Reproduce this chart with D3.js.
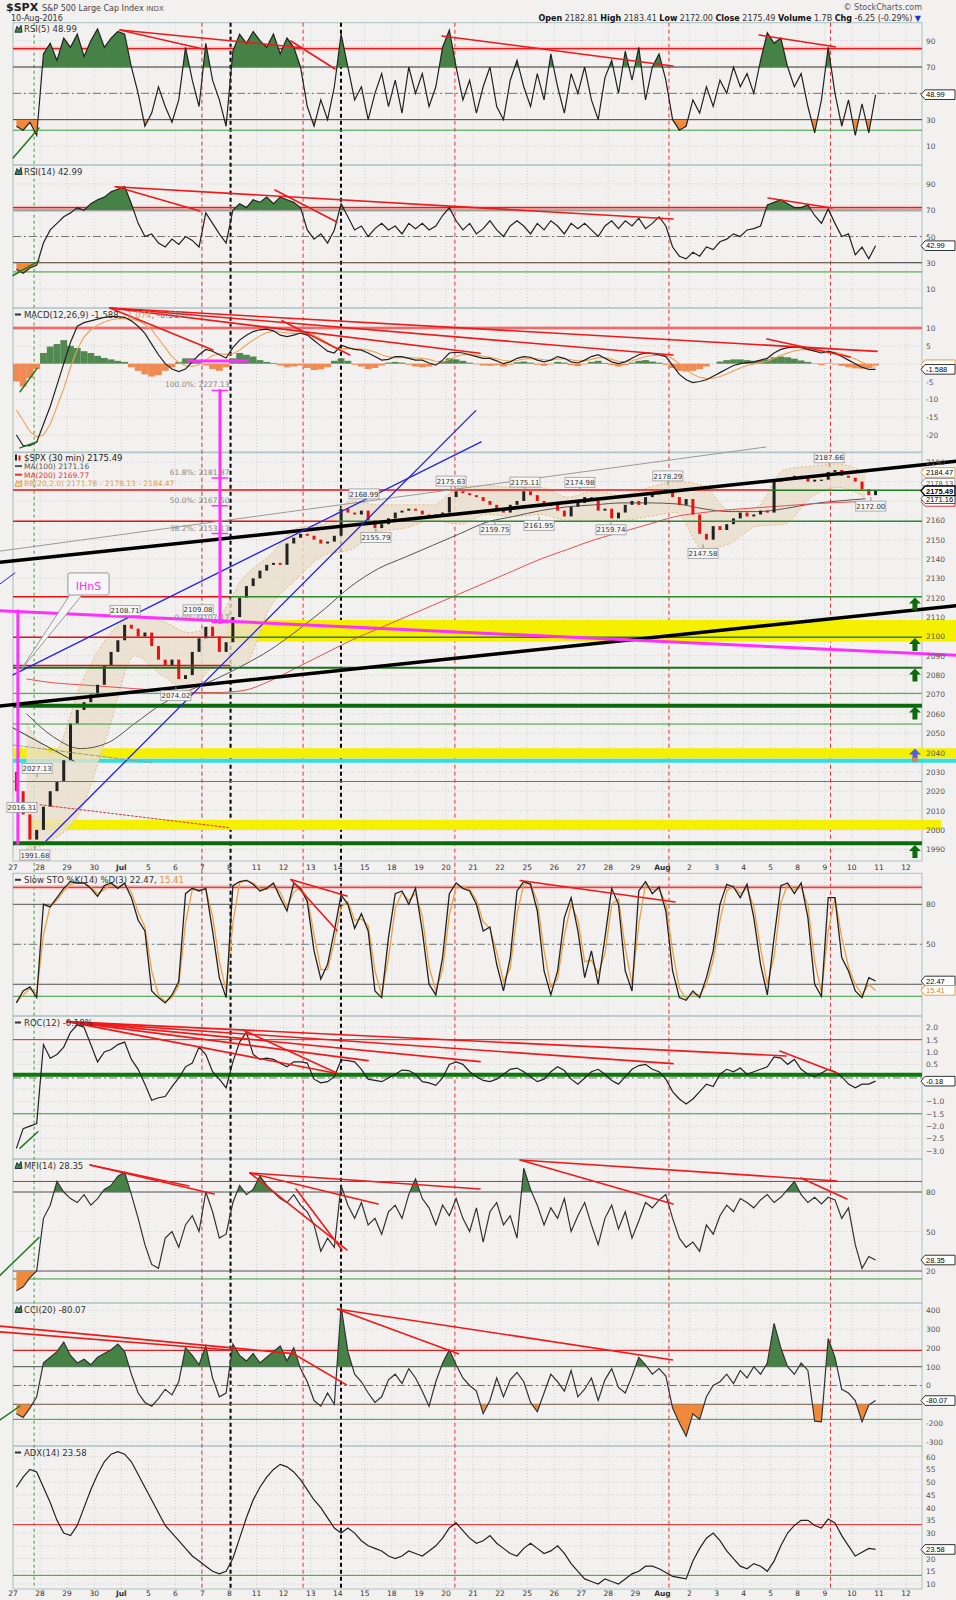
<!DOCTYPE html>
<html><head><meta charset="utf-8">
<script src="https://cdn.jsdelivr.net/npm/d3@7"></script>
<style>body{margin:0;background:#f3f0f0}svg{display:block}text{font-family:"DejaVu Sans",Verdana,sans-serif}text.tg{font-family:"Liberation Sans",Arial,sans-serif}</style>
</head><body><svg id="c" width="956" height="1600"></svg>
<script>
// ---------------- DATA ----------------
const dayLabels = ["27","28","29","30","Jul","5","6","7","8","11","12","13","14","15","18","19","20","21","22","25","26","27","28","29","Aug","2","3","4","5","8","9","10","11","12"];
const boldLabels = ["Jul","Aug"];
const barsPerDay = 4;
const priceOpen = 2030;
const price = [2020,2008,1995,2000, 2012,2020,2025,2036, 2055,2062,2066,2070, 2075,2085,2092,2098,
 2106,2104,2100,2102, 2095,2088,2085,2088, 2078,2080,2092,2099, 2105,2100,2092,2097,
 2110,2120,2126,2130, 2134,2137,2138,2137, 2148,2151,2153,2152, 2150,2148,2149,2152,
 2166,2164,2163,2165, 2160,2156,2158,2161, 2164,2165,2166,2165, 2163,2162,2163,2164,
 2172,2175,2174,2173, 2172,2170,2168,2165, 2164,2168,2170,2175, 2173,2170,2168,2168,
 2165,2162,2167,2169, 2172,2170,2165,2166, 2161,2164,2168,2170, 2168,2172,2174,2174,
 2176,2172,2168,2171, 2163,2153,2150,2157, 2155,2158,2161,2164, 2162,2163,2165,2164,
 2180,2181,2182,2183, 2182,2180,2181,2181, 2185,2186,2183,2182, 2180,2176,2173,2175.49];
const ma100 = [2060,2048,2042,2045,2055,2065,2072,2078,2085,2093,2103,2114,2126,2135,2141,2147,2153,2159,2162,2165,2167,2168,2169,2169,2168.5,2166,2164.5,2164.5,2166,2168.5,2170,2171.16];
const ma200 = [2078,2076,2075,2074,2073,2072,2071,2071,2072,2077,2084,2091,2098,2104,2110,2116,2122,2128,2134,2140,2145,2150,2154,2158,2162,2164,2165.5,2166.5,2167.5,2168.5,2169.2,2169.77];
const bbUpper = [2055,2040,2075,2100,2110,2108,2102,2108,2130,2142,2156,2158,2170,2168,2168,2168,2177,2178,2177,2177,2172,2175,2173,2177,2180,2178,2165,2167,2186,2188,2189,2184.47];
const bbLower = [1990,1995,2010,2050,2090,2080,2072,2085,2085,2115,2130,2142,2145,2154,2156,2160,2158,2163,2162,2163,2160,2160,2160,2162,2164,2145,2148,2157,2158,2172,2177,2171.78];
const rsi5 = [25,22,28,18, 80,88,75,92, 85,95,78,90, 99,85,92,97, 95,70,50,25, 35,55,40,28, 45,85,60,40, 88,60,45,25,
 82,95,88,97, 90,85,95,80, 92,85,70,40, 25,45,30,55, 95,70,45,55, 30,50,65,40, 60,35,70,50, 65,40,55,85,
 98,70,45,60, 35,55,70,40, 30,60,75,55, 40,65,45,80, 55,35,65,50, 70,45,30,62, 75,50,82,60, 85,45,70,80,
 60,30,22,25, 45,35,55,40, 60,50,70,55, 65,50,75,96, 88,92,70,55, 65,40,20,45, 85,50,25,45, 18,42,20,48.99];
const rsi14 = [25,22,26,28, 45,55,60,65, 68,72,70,75, 78,80,84,86, 88,75,60,50, 52,45,42,48, 44,50,47,42, 68,60,52,45,
 70,75,72,78, 76,80,75,80, 78,76,72,55, 48,52,45,55, 75,65,55,58, 50,56,60,55, 58,52,60,56, 60,55,58,66,
 72,62,55,60, 52,56,62,55, 50,58,62,58, 52,60,55,62, 58,52,60,56, 60,55,50,58, 62,56,62,58, 64,56,60,65,
 58,42,35,33, 38,35,42,40, 46,48,52,50, 55,56,58,74, 76,78,75,72, 72,74,66,60, 71,60,50,52, 36,42,33,42.99];
const macd = [-20,-23,-23,-22, -17,-12,-6,0, 6,10.5,11.5,12, 12.5,13,13.2,13.2, 13,12,10.5,8.5, 5.5,2.5,0,-1.5, -2.2,-1.5,0.5,2.5, 4,3.5,2.5,1.6,
 4.5,6.6,8,9, 9.5,9.7,9.2,8, 7.6,8,8.6,8, 6.5,5,3.5,3, 5.2,4.5,4,3.8, 3,2,1,1.2, 2,2,1.5,1, 1,0.2,-0.4,1,
 3,3.2,3,2.5, 2,1.5,1.5,0.8, 0,0.5,1.5,2, 1.8,1,0.5,1, 2,1.5,0.5,0.2, 1,2,2.5,1.5, 0.5,0,0.5,1.5, 2.5,3,2.8,2.5,
 2,-0.5,-3,-4.5, -5.3,-5,-4.5,-3.5, -2.5,-1.5,-0.5,0, 0.3,0.5,1,1.5, 3,4,4.5,4.7, 4.5,4,3.5,3, 3.5,3,2,1, 0,-1,-1.6,-1.588];
const macdSignal = [-13,-16,-19,-20.5, -20,-17,-12,-7, -1,4,7.5,9.5, 10.8,11.7,12.3,12.6, 12.7,12.5,12,11, 9.5,7,4.5,2, 0.3,-0.5,-0.8,-0.3, 1,2.3,2.8,2.6,
 2.8,3.8,5.3,6.6, 7.8,8.7,9.1,8.9, 8.6,8.5,8.5,8.4, 8,7,5.8,4.5, 4.2,4.3,4.2,4.1, 3.8,3.3,2.5,1.9, 1.7,1.7,1.7,1.6, 1.5,1.2,0.6,0.5,
 1.2,2,2.5,2.6, 2.4,2.1,1.8,1.4, 0.9,0.7,0.9,1.3, 1.5,1.4,1.1,1, 1.3,1.4,1.1,0.8, 0.8,1.2,1.7,1.7, 1.2,0.7,0.6,0.8, 1.4,2,2.3,2.4,
 2.3,1.4,0,-1.6, -3,-3.8,-4.2,-4.1, -3.6,-2.9,-2,-1.2, -0.5,-0.1,0.3,0.7, 1.5,2.3,3,3.6, 3.9,3.9,3.7,3.4, 3.3,3.2,2.8,2.1, 1.3,0.4,-0.4,-1.074];
const macdHist = [-5,-6.4,-4,-1.5, 3,4.8,5.5,6.6, 5,4.4,3.5,3, 2.2,1.6,1.2,0.8, 0.5,-1,-2,-3, -3.6,-3.2,-2,-1, 0.5,1.5,1.5,1, -0.5,-1.5,-2,-1,
 1.5,3,2.5,2, 1,0.5,0.2,-0.5, -1,-0.8,-0.5,-1.2, -1.8,-1.6,-1,0.8, 1.5,0.8,-0.3,-0.8, -1.5,-1.2,-0.5,0.3, 0.5,0.3,-0.3,-0.8, -1,-0.8,-0.2,0.8,
 1.5,1.2,0.8,0.3, -0.2,-0.5,-0.6,-0.4, -0.8,-0.3,0.4,0.6, 0.3,-0.3,-0.6,-0.2, 0.5,0.3,-0.4,-0.7, -0.2,0.5,0.8,0.2, -0.4,-0.8,-0.4,0.3, 0.8,1,0.6,0.3,
 -0.3,-1.2,-2,-2.2, -2,-1.5,-0.8,0, 0.6,1,1.2,1.2, 1,0.8,1,1.2, 1.8,2,1.8,1.4, 0.9,0.5,0.1,-0.4, 0.1,-0.2,-0.6,-1, -1.3,-1.4,-1.2,-0.514];
const stoK = [6,15,18,10, 80,78,85,92, 97,96,96,92, 86,94,96,92, 96,85,68,60, 15,10,6,12, 22,88,92,90, 92,60,25,10,
 94,97,98,95, 90,92,96,85, 75,96,92,82, 45,24,35,60, 87,80,62,73, 60,15,10,55, 88,90,80,92, 60,20,12,40,
 88,96,92,90, 80,60,63,35, 15,40,90,97, 95,75,30,12, 30,70,85,60, 25,45,20,55, 92,80,30,15, 90,97,88,93,
 75,30,10,8, 15,10,25,45, 80,95,93,85, 95,70,35,12, 55,94,96,88, 96,70,20,11, 85,85,40,30, 15,10,25,22.47];
const stoD = [7,12,17,13, 57,79,83,90, 95,96,96,93, 88,91,95,93, 95,89,74,63, 30,12,7,10, 19,66,91,91, 91,71,37,15,
 66,96,98,96, 92,91,95,89, 78,89,93,85, 57,31,31,52, 78,82,68,69, 64,30,12,40, 77,89,83,88, 71,33,15,31,
 72,93,93,91, 83,67,62,44, 22,32,73,95, 96,82,45,18, 24,57,80,68, 37,38,28,43, 80,84,47,20, 65,95,91,91,
 81,45,17,9, 13,12,20,38, 68,90,94,88, 92,78,47,20, 41,81,95,91, 93,79,37,14, 60,85,55,33, 20,12,20,15.41];
const roc = [-2.9,-2.1,-2.0,-1.9, 1.3,0.75,0.9,1.2, 1.8,2.1,2.0,1.3, 0.6,1.0,1.1,1.3, 1.4,0.7,0.3,-0.3, -0.95,-0.85,-0.8,-0.4, -0.05,0.4,0.55,1.2, 0.9,0.2,-0.1,-0.45,
 0.6,1.4,1.8,0.9, 0.7,0.75,0.7,0.55, 0.4,0.6,0.6,0.55, -0.1,-0.25,-0.2,0.0, 0.68,0.65,0.6,0.3, -0.1,-0.15,-0.2,-0.05, 0.1,0.27,0.25,0.1, -0.2,-0.25,-0.35,-0.05,
 0.5,0.6,0.5,0.2, 0,-0.15,-0.2,-0.1, 0.1,0.3,0.35,0.2, 0,-0.2,-0.1,0.2, 0.4,0.25,-0.1,-0.3, -0.05,0.2,0.3,0.1, -0.15,-0.3,0,0.3, 0.45,0.5,0.3,0.2,
 -0.1,-0.6,-0.9,-1.1, -0.9,-0.6,-0.3,-0.4, 0.1,0.3,0.2,0.35, 0.1,0.2,0.3,0.4, 0.8,0.75,0.5,0.7, 0.3,0.1,0,0.15, 0.3,0.2,0,-0.3, -0.45,-0.3,-0.3,-0.18];
const mfi = [5,8,15,20, 60,70,88,80, 75,72,78,70, 75,82,85,92, 95,78,60,40, 25,22,45,50, 38,55,62,50, 80,65,45,48,
 72,85,78,82, 92,85,80,75, 72,78,70,65, 55,35,45,38, 85,70,60,72, 55,60,48,65, 70,60,78,90, 75,68,55,70,
 62,75,60,50, 68,42,65,72, 55,62,45,98, 82,70,55,68, 60,75,50,62, 72,55,40,60, 70,52,65,45, 58,72,68,74,
 78,60,45,38, 42,35,55,48, 62,70,65,75, 72,68,74,78, 72,76,82,88, 78,72,76,71, 76,74,60,68, 40,22,31,28.35];
const cci = [-150,-170,-120,-60, 120,150,180,230, 160,120,140,110, 150,170,190,220, 180,60,-40,-90, -110,-70,-20,-50, 20,200,160,110, 210,40,-60,-40,
 220,160,130,170, 120,150,180,210, 130,200,90,20, -80,-110,-40,-100, 420,180,60,20, -40,-90,-60,30, 60,10,90,40, -30,-110,20,120,
 190,110,40,0, -30,-150,-80,40, -60,30,70,20, -90,-140,-40,60, 20,-30,80,-60, -20,40,-80,30, 90,-10,-40,50, 150,110,60,90,
 50,-120,-200,-270, -150,-180,-60,0, 20,60,10,80, 40,100,60,120, 330,200,100,60, 120,80,-190,-193, 250,150,-20,-40, -80,-193,-104,-80.07];
const adx = [48,52,55,54, 48,42,35,30, 29,33,40,47, 53,58,61,62, 61,58,53,48, 43,38,33,30, 27,24,21,19, 17,15,14,15,
 20,28,36,43, 48,52,55,57, 56,54,51,47, 43,40,36,32, 30,32,30,27, 25,24,23,21, 20,21,23,22, 21,23,25,28,
 32,34,31,28, 26,27,29,26, 24,22,21,24, 26,24,22,23, 25,22,18,15, 12,11,10,12, 11,10,12,14, 15,17,17,16,
 14.5,13,12.5,12, 19,24,28,30, 27,23,20,17, 16,18,17,15, 19,25,30,33, 35,35,33,32, 35.5,34,29,25, 21,22.5,24,23.58];

// annotation lines in data units: [t1, v1, t2, v2]
const rsi5Trends = [[3.95,98.1,10.68,84.7],[3.95,98.1,7.06,83.5],[10.27,89.8,11.9,68.5],[15.85,93.6,24.39,70.8],[27.57,94.3,30.38,85.4]];
const rsi14Trends = [[3.77,87.9,24.39,63.3],[3.84,87.7,6.91,69.4],[9.68,85.4,11.97,61.0],[27.9,79.3,30.27,71.7]];
const macdTrends = [[3.58,15.6,31.93,3.44],[3.58,15.6,24.39,2.43],[3.58,15.6,17.26,2.91],[3.58,15.6,7.39,3.83],[9.94,12.05,12.45,2.43],[27.86,6.92,30.93,1.87]];
const stoTrends = [[10.27,98.6,12.34,86.2],[10.27,98.6,11.97,60.3],[18.74,97.9,24.46,81.7]];
const rocTrends = [[2.0,2.23,28.57,0.84],[2.0,2.23,24.39,0.53],[2.0,2.23,17.26,0.61],[2.0,2.23,13.12,0.65],[2.0,2.23,11.83,0.16],[8.5,1.89,11.97,0.15],[28.34,1.04,30.45,0.15]];
const mfiTrends = [[2.85,100.5,7.43,78.5],[2.85,100.5,6.5,84.6],[8.76,94.4,13.49,70.9],[8.76,94.4,12.34,36],[8.76,94.4,17.26,82.3],[10.46,82.3,12.16,36],[18.74,104.3,24.39,70.9],[18.74,104.3,30.45,88.4],[29.12,90.6,30.82,74.7]];
const cciTrends = [[-0.48,316,10.46,168],[-0.48,285,8.02,189],[10.27,177,12.34,2],[11.97,407,24.39,136],[11.97,407,16.48,168]];
const greenTicks = {rsi5:[0,0.9,0.96,23.7], rsi14:[0,20.3,0.96,31.4], macd:[0.26,-7.86,0.89,-1.3], macd2:[0.26,-23.6,0.89,-21.9], roc:[0.26,-2.89,0.92,-2.23], mfi:[-0.48,16.7,0.96,45.4], cci:[-0.48,-183,0.26,-109]};
const mainTrends = [
 {a:[-0.48,2138.3,34.85,2190.5],c:'#000',w:3.5},
 {a:[-0.48,2064.0,34.85,2115.9],c:'#000',w:3.5},
 {a:[-0.48,2144.1,27.83,2197.9],c:'#9a9a9a',w:1},
 {a:[0,2080.1,17.3,2200.5],c:'#2323e6',w:1.3},
 {a:[1.22,1994.3,17.1,2216.7],c:'#2323e6',w:1.3},
 {a:[-0.48,2113.3,34.85,2090.3],c:'#ff30ff',w:3},
 {a:[-0.48,2127.1,0.07,2132.8],c:'#2323e6',w:1},
 {a:[0,2052.7,2.25,2035.6],c:'#333',w:1},
 {a:[0,2043.9,5.14,2034.6],c:'#999',w:1,d:'4,2'},
 {a:[1.0,2013,8.02,2001.1],c:'#e03030',w:1,d:'2,2'},
 {a:[0.18,2113.3,0.18,1993.1],c:'#ff30ff',w:3}
];
const fibLevels = [{p:"100.0%",v:2227.13},{p:"61.8%",v:2181.87},{p:"50.0%",v:2167.50},{p:"38.2%",v:2153.13},{p:"0.0%",v:2107.17}];
const priceLabels = [
 {t:0.33,v:2016.31,pos:1},{t:0.89,v:2027.13,pos:-1},{t:0.81,v:1991.68,pos:1},
 {t:4.14,v:2108.71,pos:-1},{t:6.84,v:2109.08,pos:-1},{t:6.02,v:2074.02,pos:1},
 {t:12.97,v:2168.99,pos:-1},{t:13.41,v:2155.79,pos:1},{t:16.19,v:2175.63,pos:-1},
 {t:17.81,v:2159.75,pos:1},{t:18.92,v:2175.11,pos:-1},{t:19.44,v:2161.95,pos:1},
 {t:20.95,v:2174.98,pos:-1},{t:22.1,v:2159.74,pos:1},{t:24.2,v:2178.29,pos:-1},
 {t:25.5,v:2147.58,pos:1},{t:30.16,v:2187.66,pos:-1},{t:31.7,v:2172.00,pos:1}];
const yellowBands = [{lo:2097.3,hi:2108.5,t1:7.91,t2:34.85},{lo:2037,hi:2042.2,t1:0,t2:34.85},{lo:2000,hi:2005.2,t1:0.59,t2:34.3}];
const supportLines = [
 {v:2175.6,c:'#e81010',w:1.5,t1:0,t2:27.97},{v:2175.49,c:'#1e7a1e',w:1.5,t1:27.97,t2:33.59},
 {v:2159.5,c:'#e81010',w:1.5,t1:0,t2:11.97},{v:2159.5,c:'#2e8b2e',w:1.5,t1:11.97,t2:33.59},
 {v:2120.5,c:'#e81010',w:1.5,t1:0,t2:8.02},{v:2120.5,c:'#2e8b2e',w:1.5,t1:8.02,t2:33.59},
 {v:2099.5,c:'#e81010',w:1.5,t1:0,t2:7.91},{v:2099.5,c:'#2e7a2e',w:1.5,t1:7.91,t2:33.59},
 {v:2085,c:'#e81010',w:1.5,t1:0,t2:8.02},{v:2083.8,c:'#1e6e1e',w:2,t1:0,t2:33.59},
 {v:2070.6,c:'#3a9a3a',w:1,t1:0,t2:33.59},{v:2064.2,c:'#0b6b0b',w:4,t1:0,t2:33.59},
 {v:2054.7,c:'#3a9a3a',w:1,t1:0,t2:33.59},{v:2025,c:'#3a9a3a',w:1,t1:0,t2:33.59},
 {v:1993.1,c:'#0b6b0b',w:4,t1:0,t2:33.59}];
const arrowLevels = [2116.5,2095.6,2079.8,2060.2,2038.4,1988.6];
const vLines = [{t:0.78,c:'#3a9a3a',w:1,d:'3,3'},{t:6.98,c:'#e83030',w:1,d:'4,3'},{t:8.04,c:'#000',w:2,d:'4,3'},{t:10.72,c:'#e83030',w:1,d:'4,3'},
 {t:12.12,c:'#000',w:2,d:'4,3'},{t:16.33,c:'#e83030',w:1,d:'4,3'},{t:24.24,c:'#e83030',w:1,d:'4,3'},{t:30.21,c:'#e83030',w:1,d:'4,3'}];

// ---------------- LAYOUT ----------------
const svg = d3.select('#c');
const defs = svg.append('defs');
const XL = 13, XR = 922;
const x = d3.scaleLinear().domain([0, 33]).range([13, 906]);
const tS = i => (i + 0.5) / barsPerDay;
const tD = d => d + 0.5;
svg.append('rect').attr('width',956).attr('height',1600).attr('fill','#f3f0f0');
const gGrid = svg.append('g'), gV = svg.append('g'), gData = svg.append('g'), gTop = svg.append('g'), gTick = svg.append('g'), gTag = svg.append('g');
const tagYs = [];

const P = {
 rsi5:{top:22.7,bottom:165,lo:-4.45,hi:103.68,ticks:[90,70,50,30,10]},
 rsi14:{top:165,bottom:308,lo:-4.48,hi:104.48,ticks:[90,70,50,30,10]},
 macd:{top:308,bottom:452,lo:-24.76,hi:15.61,ticks:[10,5,0,-5,-10,-15,-20]},
 main:{top:452.7,bottom:861,lo:1983.93,hi:2194.94,ticks:d3.range(1990,2200,10)},
 sto:{top:873.3,bottom:1016,lo:-3.8,hi:103.26,ticks:[80,50,20]},
 roc:{top:1016,bottom:1159,lo:-3.33,hi:2.457,ticks:[2,1.5,1,0.5,0,-0.5,-1,-1.5,-2,-2.5,-3],fmt:d3.format('.1f')},
 mfi:{top:1159,bottom:1303,lo:-4.28,hi:105.06,ticks:[80,50,20]},
 cci:{top:1303,bottom:1446,lo:-321.8,hi:438.8,ticks:[400,300,200,100,0,-100,-200,-300]},
 adx:{top:1446,bottom:1589,lo:8.04,hi:64.2,ticks:[60,55,50,45,40,35,30,25,20,15,10]}
};
Object.entries(P).forEach(([k,p]) => {
  p.y = d3.scaleLinear().domain([p.lo,p.hi]).range([p.bottom,p.top]);
  defs.append('clipPath').attr('id','cl_'+k).append('rect').attr('x',XL).attr('y',p.top).attr('width',XR-XL).attr('height',p.bottom-p.top);
  p.clip = 'url(#cl_'+k+')'; p.key = k;
  const g = gGrid.append('g');
  g.selectAll('line.v').data(d3.range(dayLabels.length)).join('line').attr('class','v')
    .attr('x1',d=>x(d)).attr('x2',d=>x(d)).attr('y1',p.top).attr('y2',p.bottom)
    .attr('stroke','#c9d3d3').attr('stroke-dasharray','1,2');
  g.selectAll('line.h').data(p.ticks).join('line').attr('class','h')
    .attr('x1',XL).attr('x2',XR).attr('y1',d=>p.y(d)).attr('y2',d=>p.y(d))
    .attr('stroke','#c9d3d3').attr('stroke-dasharray','1,2');
  g.append('rect').attr('x',XL).attr('y',p.top).attr('width',XR-XL).attr('height',p.bottom-p.top)
    .attr('fill','none').attr('stroke','#a9c2c2');
});

// date rows
[867, 1593].forEach(yc => {
  svg.append('g').selectAll('text').data(dayLabels).join('text')
    .attr('x',(d,i)=>x(i)).attr('y',yc+3).attr('text-anchor','middle').attr('font-size',7.5)
    .attr('font-weight',d=>boldLabels.includes(d)?'bold':null).attr('fill','#333').text(d=>d);
});

// vertical marker lines
vLines.forEach(v => gV.append('line').attr('x1',x(v.t)).attr('x2',x(v.t)).attr('y1',22.7).attr('y2',1589)
  .attr('stroke',v.c).attr('stroke-width',v.w).attr('stroke-dasharray',v.d));

// ---------------- HELPERS ----------------
function hl(p, v, c, w, dash, t1, t2, glow) {
  const x1 = t1==null?XL:x(t1), x2 = t2==null?XR:x(t2);
  if (glow) gData.append('line').attr('x1',x1).attr('x2',x2).attr('y1',p.y(v)).attr('y2',p.y(v)).attr('stroke','#f4a0a0').attr('stroke-width',4).attr('opacity',0.6);
  gData.append('line').attr('x1',x1).attr('x2',x2).attr('y1',p.y(v)).attr('y2',p.y(v))
    .attr('stroke',c).attr('stroke-width',w||1).attr('stroke-dasharray',dash||null);
}
function seg(p, a, c, w, dash) {
  gTop.append('line').attr('x1',x(a[0])).attr('y1',p.y(a[1])).attr('x2',x(a[2])).attr('y2',p.y(a[3]))
    .attr('stroke',c).attr('stroke-width',w).attr('stroke-dasharray',dash||null).attr('stroke-linecap','round');
}
let clipN = 0;
function thrClip(p, y1, y2) {
  const id = 'tc'+(clipN++);
  defs.append('clipPath').attr('id',id).append('rect').attr('x',XL).attr('y',Math.min(y1,y2)).attr('width',XR-XL).attr('height',Math.abs(y2-y1));
  return 'url(#'+id+')';
}
function osc(p, vals, hi, lo, color) {
  const g = gData.append('g').attr('clip-path', p.clip);
  const area = thr => d3.area().x((d,i)=>x(tS(i))).y0(p.y(thr)).y1(d=>p.y(d));
  if (hi != null) g.append('path').attr('d',area(hi)(vals)).attr('fill','#468246').attr('clip-path',thrClip(p,p.top,p.y(hi)));
  if (lo != null) g.append('path').attr('d',area(lo)(vals)).attr('fill','#f08a3a').attr('clip-path',thrClip(p,p.y(lo),p.bottom));
  g.append('path').attr('d',d3.line().x((d,i)=>x(tS(i))).y(d=>p.y(d))(vals))
    .attr('fill','none').attr('stroke',color||'#222').attr('stroke-width',1.2);
}
function tag(y, txt, stroke, o) {
  o = o || {};
  tagYs.push(y);
  const g = gTag.append('g');
  g.append('path').attr('d',`M921,${y} L925,${y-4.8} L955,${y-4.8} L955,${y+4.8} L925,${y+4.8} Z`)
    .attr('fill','#fff').attr('stroke',stroke).attr('stroke-width',o.bold?1.4:1);
  if (txt) g.append('text').attr('class','tg').attr('x',926).attr('y',y+2.8).attr('font-size',7.5)
    .attr('fill',o.color||'#000').attr('font-weight',o.bold?'bold':null).text(txt);
}
function label(p, parts, icon) {
  const yb = p.top + 9.5;
  if (icon === 'mtn') gTop.append('path').attr('d',`M15,${yb} L17,${yb-6} L19,${yb-3} L21,${yb-7} L22,${yb} Z`).attr('fill','#468246').attr('stroke','#234');
  else if (icon) gTop.append('line').attr('x1',15).attr('x2',21).attr('y1',yb-3).attr('y2',yb-3).attr('stroke',icon).attr('stroke-width',2);
  const t = gTop.append('text').attr('x',24).attr('y',yb).attr('font-size',8.5).attr('fill','#333');
  parts.forEach(pt => t.append('tspan').attr('fill',pt[1]||'#333').text(pt[0]));
}

// ---------------- HEADER ----------------
const hd = svg.append('text').attr('x',6).attr('y',11);
hd.append('tspan').attr('font-size',11).attr('font-weight','bold').attr('fill','#222').text('$SPX ');
hd.append('tspan').attr('font-size',8).attr('fill','#444').text('S&P 500 Large Cap Index ');
hd.append('tspan').attr('font-size',7).attr('fill','#555').text('INDX');
svg.append('text').attr('x',11).attr('y',20.5).attr('font-size',8).attr('fill','#333').text('10-Aug-2016');
svg.append('text').attr('x',922).attr('y',10).attr('text-anchor','end').attr('font-size',8).attr('fill','#555').text('© StockCharts.com');
const ol = svg.append('text').attr('x',921).attr('y',20.5).attr('text-anchor','end').attr('font-size',8).attr('fill','#333');
[['Open',' 2182.81 '],['High',' 2183.41 '],['Low',' 2172.00 '],['Close',' 2175.49 '],['Volume',' 1.7B '],['Chg',' -6.25 (-0.29%) ']].forEach(k=>{
  ol.append('tspan').attr('font-weight','bold').attr('fill','#111').text(k[0]); ol.append('tspan').text(k[1]); });
ol.append('tspan').attr('fill','#2030d0').text('▼');

// ---------------- RSI(5) ----------------
(() => { const p = P.rsi5;
  hl(p,84,'#e81c1c',1.2,null,null,null,true); hl(p,70,'#333',1); hl(p,50,'#777',1,'8,3,2,3'); hl(p,30,'#333',1); hl(p,22,'#3a9a3a',1);
  osc(p, rsi5, 70, 30);
  rsi5Trends.forEach(a=>seg(p,a,'#f01818',1.6)); seg(p,greenTicks.rsi5,'#1e7a1e',1.5);
  label(p,[['RSI(5) 48.99']],'mtn'); tag(p.y(48.99),'48.99','#333');
})();
// ---------------- RSI(14) ----------------
(() => { const p = P.rsi14;
  hl(p,70,'#aaa',2.5); hl(p,72,'#e81c1c',1.2,null,null,null,true); hl(p,50,'#777',1,'8,3,2,3'); hl(p,30,'#333',1); hl(p,23,'#3a9a3a',1);
  osc(p, rsi14, 70, 30);
  rsi14Trends.forEach(a=>seg(p,a,'#f01818',1.6)); seg(p,greenTicks.rsi14,'#1e7a1e',1.5);
  label(p,[['RSI(14) 42.99']],'mtn'); tag(p.y(42.99),'42.99','#333');
})();
// ---------------- MACD ----------------
(() => { const p = P.macd;
  hl(p,10,'#e81c1c',1.2,null,null,null,true);
  const g = gData.append('g').attr('clip-path',p.clip);
  g.selectAll('rect').data(macdHist).join('rect')
    .attr('x',(d,i)=>x(tS(i))-3.4).attr('width',6.8)
    .attr('y',d=>Math.min(p.y(d),p.y(0))).attr('height',d=>Math.abs(p.y(d)-p.y(0)))
    .attr('fill',d=>d>=0?'#3f7d3f':'#ee8040').attr('opacity',0.9);
  const ln = d3.line().x((d,i)=>x(tS(i))).y(d=>p.y(d));
  g.append('path').attr('d',ln(macdSignal)).attr('fill','none').attr('stroke','#f0a050').attr('stroke-width',1.1);
  g.append('path').attr('d',ln(macd)).attr('fill','none').attr('stroke','#222').attr('stroke-width',1.2);
  macdTrends.forEach(a=>seg(p,a,'#f01818',1.6));
  seg(p,greenTicks.macd,'#1e7a1e',1.5); seg(p,greenTicks.macd2,'#1e7a1e',1.5);
  seg(p,[6.47,0.75,8.65,0.75],'#ff30ff',3);
  label(p,[['MACD(12,26,9) -1.588, '],['-1.074','#e89a50'],[', -0.514','#777']],'#333');
  tag(p.y(-0.3),null,'#e0a050'); tag(p.y(-1.588),'-1.588','#333');
})();
// ---------------- MAIN PRICE ----------------
(() => { const p = P.main; const y = p.y;
  yellowBands.forEach(b => gData.append('rect').attr('x',x(b.t1)).attr('width',x(b.t2)-x(b.t1)).attr('y',y(b.hi)).attr('height',y(b.lo)-y(b.hi)).attr('fill','#f4f000'));
  hl(p,2035.8,'#2ee0e0',4,null,0,34.85);
  const g = gData.append('g').attr('clip-path',p.clip);
  const band = d3.area().curve(d3.curveMonotoneX).x((d,i)=>x(tD(i))).y0((d,i)=>y(bbLower[i])).y1(d=>y(d));
  g.append('path').attr('d',band(bbUpper)).attr('fill','#e8dfcc').attr('opacity',0.8);
  const ln = d3.line().curve(d3.curveMonotoneX).x((d,i)=>x(tD(i))).y(d=>y(d));
  g.append('path').attr('d',ln(bbUpper)).attr('fill','none').attr('stroke','#e9b877').attr('stroke-dasharray','2,2');
  g.append('path').attr('d',ln(bbLower)).attr('fill','none').attr('stroke','#e9b877').attr('stroke-dasharray','2,2');
  supportLines.forEach(s => hl(p,s.v,s.c,s.w,null,s.t1,s.t2));
  g.append('path').attr('d',ln(ma100)).attr('fill','none').attr('stroke','#555').attr('stroke-width',1);
  g.append('path').attr('d',ln(ma200)).attr('fill','none').attr('stroke','#e85050').attr('stroke-width',1);
  const cd = price.map((c,i)=>({i, o: i ? price[i-1] : priceOpen, c}));
  g.selectAll('rect.cd').data(cd).join('rect').attr('class','cd')
    .attr('x',d=>x(tS(d.i))-1.5).attr('width',3)
    .attr('y',d=>y(Math.max(d.o,d.c))).attr('height',d=>Math.max(1.2,Math.abs(y(d.o)-y(d.c))))
    .attr('fill',d=>d.c>=d.o?'#222':'#e81010');
  mainTrends.forEach(m => seg(p,m.a,m.c,m.w,m.d));
  // fib
  seg(p,[7.65,2227.13,7.65,2107.17],'#ff30ff',3);
  fibLevels.forEach(f => {
    seg(p,[7.36,f.v,7.93,f.v],'#ff30ff',1.5);
    gTop.append('text').attr('x',x(8.0)).attr('y',y(f.v)-3).attr('text-anchor','end').attr('font-size',7.5).attr('fill','#888').text(f.p+': '+f.v.toFixed(2));
  });
  // price callouts
  priceLabels.forEach(l => {
    const cx = x(l.t), cy = y(l.v) + l.pos*9;
    gTop.append('line').attr('x1',cx).attr('x2',cx).attr('y1',y(l.v)).attr('y2',cy-l.pos*5).attr('stroke','#888');
    gTop.append('rect').attr('x',cx-15).attr('y',cy-5).attr('width',30).attr('height',10).attr('fill','#f6f6f6').attr('stroke','#999').attr('stroke-width',0.8);
    gTop.append('text').attr('x',cx).attr('y',cy+2.6).attr('text-anchor','middle').attr('font-size',7).attr('fill','#333').text(l.v.toFixed(2));
  });
  // IHnS callout
  gTop.append('path').attr('d',`M${x(2.1)},${y(2121.4)} L${x(0.26)},${y(2082.1)} L${x(2.55)},${y(2121.4)}`).attr('fill','#f4f4f4').attr('stroke','#999');
  gTop.append('rect').attr('x',x(2.03)).attr('y',y(2132.8)).attr('width',x(3.55)-x(2.03)).attr('height',y(2121.4)-y(2132.8)).attr('fill','#f6f6f6').attr('stroke','#999').attr('rx',2);
  gTop.append('text').attr('x',(x(2.03)+x(3.55))/2).attr('y',y(2124.2)).attr('text-anchor','middle').attr('font-size',11).attr('fill','#ff30ff').text('IHnS');
  // arrows
  arrowLevels.forEach((v,k) => {
    const ax = x(33.33), ay = y(v);
    const c = k===4 ? '#5060e0' : '#0b6b0b';
    gTop.append('path').attr('d',`M${ax},${ay-7} L${ax+6},${ay-1} L${ax+2.5},${ay-1} L${ax+2.5},${ay+6} L${ax-2.5},${ay+6} L${ax-2.5},${ay-1} L${ax-6},${ay-1} Z`).attr('fill',c);
    if (k===4) gTop.append('rect').attr('x',ax-2.5).attr('y',ay+2).attr('width',5).attr('height',4).attr('fill','#e88050');
  });
  // legend
  const lg = [['$SPX (30 min) 2175.49','#222',8.5],['MA(100) 2171.16','#555',7.5],['MA(200) 2169.77','#e03030',7.5],['BB(20,2.0) 2171.78 - 2178.13 - 2184.47','#e0a050',7.5]];
  lg.forEach((l,k) => {
    const yb = 460.5 + k*8.6;
    if (k===0) { gTop.append('rect').attr('x',15).attr('y',yb-6).attr('width',2).attr('height',6).attr('fill','#222'); gTop.append('rect').attr('x',18.5).attr('y',yb-5).attr('width',2).attr('height',5).attr('fill','#e81010'); }
    else if (k<3) gTop.append('line').attr('x1',15).attr('x2',22).attr('y1',yb-3).attr('y2',yb-3).attr('stroke',l[1]).attr('stroke-width',2);
    else gTop.append('path').attr('d',`M15,${yb} L17,${yb-6} L19,${yb-3} L21,${yb-6} L22,${yb} Z`).attr('fill','#e8d8b8').attr('stroke','#e0a050');
    gTop.append('text').attr('x',24).attr('y',yb).attr('font-size',l[2]).attr('fill',l[1]).text(l[0]);
  });
  tag(y(2184.47)-0.5,'2184.47','#e0a050'); tag(y(2178.13)-2,'2178.13','#999',{color:'#555'});
  tag(y(2169.77),null,'#e03030'); tag(y(2171.16),'2171.16','#555');
  tag(y(2175.49)+0.5,'2175.49','#000',{bold:true});
})();
// ---------------- SLOW STO ----------------
(() => { const p = P.sto;
  hl(p,92.75,'#e81c1c',1,null,null,null,true); hl(p,80,'#555',1); hl(p,50,'#777',1,'8,3,2,3'); hl(p,20,'#555',1); hl(p,11,'#3a9a3a',1);
  const g = gData.append('g').attr('clip-path',p.clip);
  const ln = d3.line().x((d,i)=>x(tS(i))).y(d=>p.y(d));
  g.append('path').attr('d',ln(stoD)).attr('fill','none').attr('stroke','#f0a040').attr('stroke-width',1.3);
  g.append('path').attr('d',ln(stoK)).attr('fill','none').attr('stroke','#222').attr('stroke-width',1.3);
  stoTrends.forEach(a=>seg(p,a,'#f01818',1.6));
  label(p,[['Slow STO %K(14) %D(3) 22.47, '],['15.41','#e8903a']],'#333');
  tag(p.y(22.47),'22.47','#333'); tag(p.y(15.41),'15.41','#e0a050',{color:'#e08030'});
})();
// ---------------- ROC ----------------
(() => { const p = P.roc;
  hl(p,1.5,'#e81c1c',1); hl(p,-0.05,'#777',1,'8,3,2,3'); hl(p,0.08,'#0b7a0b',4); hl(p,-1.5,'#3a9a3a',1);
  osc(p, roc, null, null);
  rocTrends.forEach(a=>seg(p,a,'#f01818',1.6)); seg(p,greenTicks.roc,'#1e7a1e',1.5);
  label(p,[['ROC(12) -0.18%']],'#333'); tag(p.y(-0.18),'-0.18','#333');
})();
// ---------------- MFI ----------------
(() => { const p = P.mfi;
  hl(p,88,'#e81c1c',1); hl(p,80,'#555',1); hl(p,20,'#555',1); hl(p,14,'#3a9a3a',1);
  osc(p, mfi, 80, 20, '#333');
  mfiTrends.forEach(a=>seg(p,a,'#f01818',1.6)); seg(p,greenTicks.mfi,'#1e7a1e',1.5);
  label(p,[['MFI(14) 28.35']],'mtn'); tag(p.y(28.35),'28.35','#333');
})();
// ---------------- CCI ----------------
(() => { const p = P.cci;
  hl(p,187,'#e81c1c',1.2); hl(p,100,'#555',1); hl(p,0,'#777',1,'8,3,2,3'); hl(p,-100,'#555',1); hl(p,-180,'#3a9a3a',1);
  osc(p, cci, 100, -100, '#333');
  gTop.append('g').selectAll('line').data(cciTrends).join('line')
    .attr('x1',a=>x(a[0])).attr('y1',a=>p.y(a[1])).attr('x2',a=>x(a[2])).attr('y2',a=>p.y(a[3]))
    .attr('stroke','#f01818').attr('stroke-width',1.6);
  seg(p,greenTicks.cci,'#1e7a1e',1.5);
  label(p,[['CCI(20) -80.07']],'mtn'); tag(p.y(-80.07),'-80.07','#333');
})();
// ---------------- ADX ----------------
(() => { const p = P.adx;
  hl(p,33.3,'#e81c1c',1); hl(p,13.4,'#3a9a3a',1);
  osc(p, adx, null, null);
  label(p,[['ADX(14) 23.58']],'#333'); tag(p.y(23.58),'23.58','#333');
})();

// ---------------- AXIS TICK LABELS (skip those hidden under value tags) ----------------
Object.values(P).forEach(p => {
  const vis = p.ticks.filter(d => !tagYs.some(t => Math.abs(t - p.y(d)) < 8.5));
  gTick.append('g').selectAll('text').data(vis).join('text').attr('x',926).attr('y',d=>p.y(d)+3)
    .attr('font-size',7.5).attr('fill','#555').text(p.fmt || (d=>d));
});
</script></body></html>
